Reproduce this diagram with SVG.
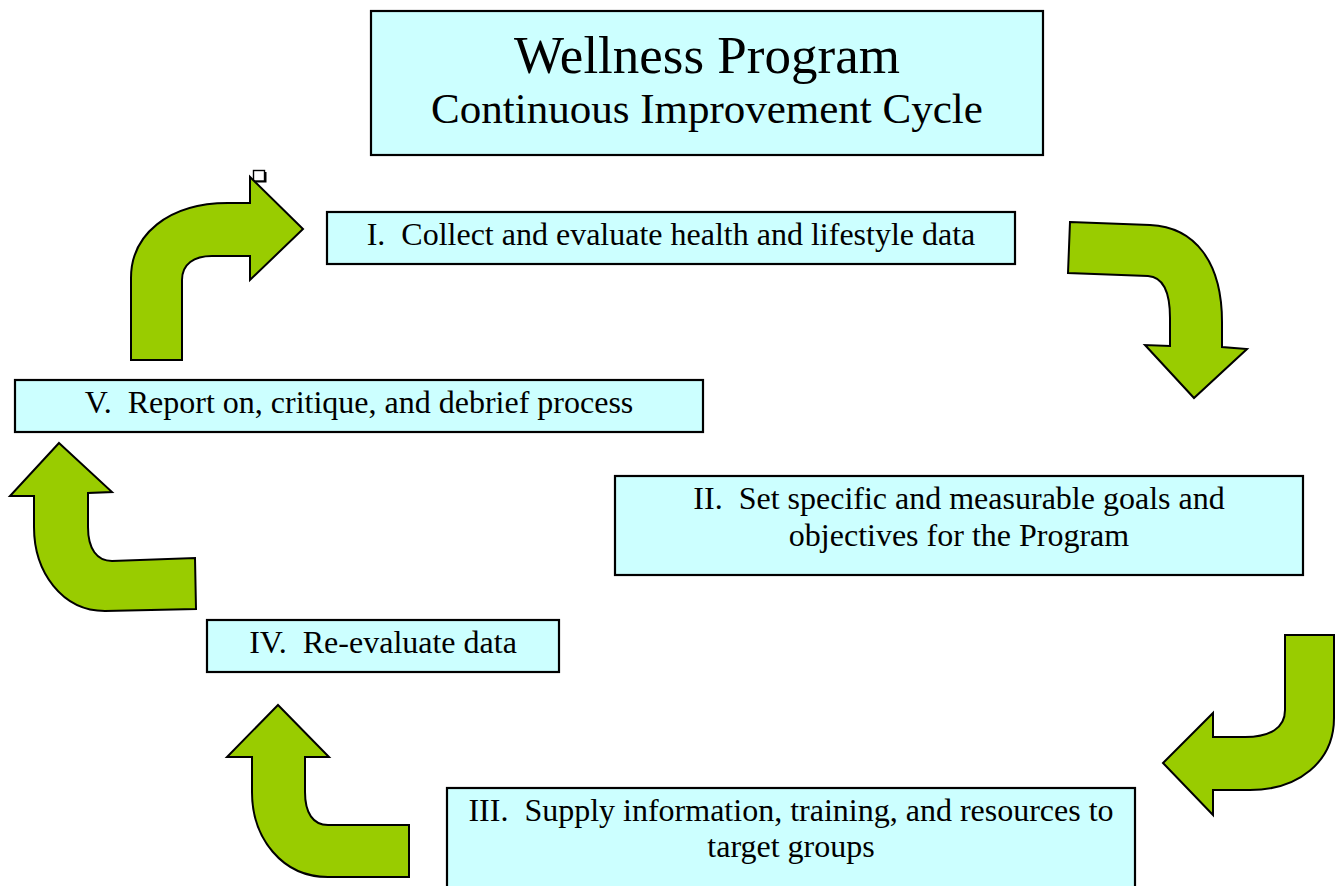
<svg xmlns="http://www.w3.org/2000/svg" width="1336" height="886" viewBox="0 0 1336 886">
  <style>
    .box { fill: #CCFFFF; stroke: #000000; stroke-width: 2.2; }
    .label { font-family: "Liberation Serif", "Times New Roman", serif; font-size: 32px; fill: #000000; text-anchor: middle; white-space: pre; }
    .title1 { font-family: "Liberation Serif", "Times New Roman", serif; font-size: 53px; fill: #000000; text-anchor: middle; }
    .title2 { font-family: "Liberation Serif", "Times New Roman", serif; font-size: 43px; fill: #000000; text-anchor: middle; }
    .bent { fill: #99CC00; stroke: #000000; stroke-width: 2; stroke-linejoin: miter; }
  </style>
  <rect width="1336" height="886" fill="#FFFFFF"/>

  <!-- heading -->
  <g id="title">
    <rect class="box" x="371" y="11" width="672" height="144"/>
    <text class="title1" x="707" y="73">Wellness Program</text>
    <text class="title2" x="707" y="123">Continuous Improvement Cycle</text>
  </g>

  <!-- cycle steps -->
  <g id="step1">
    <rect class="box" x="327" y="212" width="688" height="52"/>
    <text class="label" x="671" y="245">I.  Collect and evaluate health and lifestyle data</text>
  </g>
  <g id="step2">
    <rect class="box" x="615" y="476" width="688" height="99"/>
    <text class="label" x="959" y="509">II.  Set specific and measurable goals and</text>
    <text class="label" x="959" y="546">objectives for the Program</text>
  </g>
  <g id="step3">
    <rect class="box" x="447" y="788" width="688" height="110"/>
    <text class="label" x="791" y="821">III.  Supply information, training, and resources to</text>
    <text class="label" x="791" y="857">target groups</text>
  </g>
  <g id="step4">
    <rect class="box" x="207" y="620" width="352" height="52"/>
    <text class="label" x="383" y="653">IV.  Re-evaluate data</text>
  </g>
  <g id="step5">
    <rect class="box" x="15" y="380" width="688" height="52"/>
    <text class="label" x="359" y="413">V.  Report on, critique, and debrief process</text>
  </g>

  <!-- small handle square -->
  <g id="handle">
    <rect x="255.5" y="172" width="11" height="10.5" fill="#000000"/>
    <rect x="253.5" y="170.5" width="11" height="10.5" fill="#FFFFFF" stroke="#000000" stroke-width="1.4"/>
  </g>

  <!-- bent arrows linking the steps -->
  <g id="connectors">
    <!-- V to I -->
    <path class="bent" d="M131,360 L131,278 C131,235 168,203 228,203 L250,203 L250,177 L303,229 L250,280 L250,256 L212,256 C194,256 182,264 182,280 L182,360 Z"/>
    <!-- I to II -->
    <path class="bent" d="M1070,222 L1150,225 C1195,227 1222,262 1222,322 L1222,347 L1247,349 L1194,398 L1145,345 L1170,346 L1170,318 C1170,292 1163,277 1148,276 L1068,273 Z"/>
    <!-- II to III -->
    <path class="bent" d="M1285,635 L1334,635 L1334,718 C1334,762 1298,790 1250,790 L1213,790 L1213,815 L1163,763 L1213,713 L1213,737 L1245,737 C1270,737 1285,728 1285,710 Z"/>
    <!-- III to IV -->
    <path class="bent" d="M278,705 L329,757 L305,757 L305,792 C305,813 313,825 328,825 L409,825 L409,877 L328,877 C282,877 252,838 252,792 L252,757 L227,757 Z"/>
    <!-- IV to V -->
    <path class="bent" d="M59,443 L112,492 L88,493 L88,527 C88,549 97,561 112,561 L195,558 L196,609 L105,611 C62,611 34,572 34,527 L34,496 L10,496 Z"/>
  </g>
</svg>
